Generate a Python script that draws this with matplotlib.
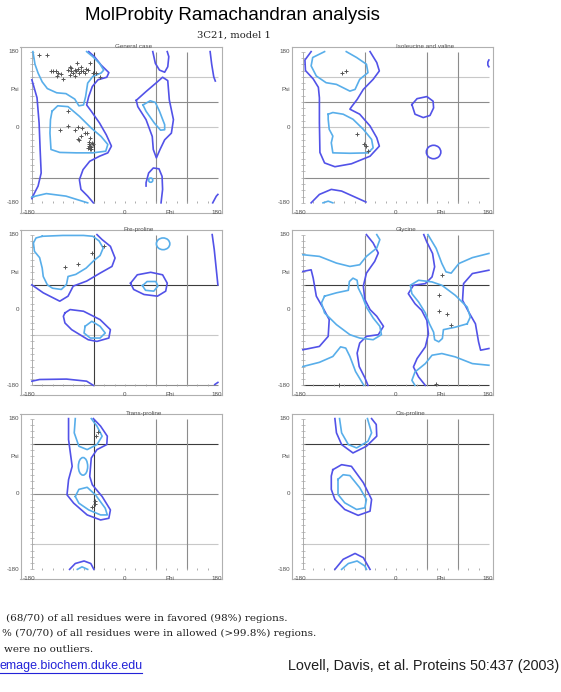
import matplotlib.pyplot as plt
from matplotlib.patches import Ellipse
from matplotlib.lines import Line2D

W, H = 561, 692
DARK_C = '#5252e8'
LIGHT_C = '#58aeea'
G_DARK = '#3c3c3c'
G_MID = '#8c8c8c'
G_LIGHT = '#c8c8c8'

# ---- General case ----
gen_dark = [
    [(-180, 113), (-170, 70), (-166, 10), (-164, -53), (-162, -109), (-168, -140), (-178, -164), (-180, -170)],
    [(-70, 180), (-59, 168), (-46, 148), (-31, 130), (-35, 119), (-52, 113), (-63, 97), (-70, 73), (-74, 53),
     (-65, 38), (-49, 10), (-36, -18), (-26, -45), (-33, -61), (-49, -69), (-68, -81), (-81, -101),
     (-88, -125), (-85, -148), (-72, -164), (-61, -180)],
    [(54, 180), (59, 152), (67, 136), (77, 131), (83, 144), (85, 168), (82, 180)],
    [(41, -140), (41, -132), (46, -109), (55, -97), (66, -99), (72, -117), (73, -148), (70, -180)],
    [(22, 64), (41, 85), (61, 106), (73, 119), (83, 111), (86, 65), (94, 18), (90, -14), (77, -30),
     (68, -53), (61, -73), (55, -53), (53, -22), (41, 18), (25, 49), (22, 64)],
    [(165, 180), (168, 150), (172, 120), (175, 110)],
    [(170, -180), (177, -164), (180, -160)],
]
gen_light = [
    [(-178, 180), (-174, 150), (-168, 129), (-160, 108), (-150, 92), (-132, 82), (-114, 80), (-97, 67),
     (-89, 51), (-80, 53), (-76, 73), (-72, 105), (-62, 121), (-46, 129), (-41, 136), (-49, 152),
     (-62, 168), (-74, 180)],
    [(-141, 38), (-130, 51), (-110, 49), (-88, 26), (-65, -2), (-46, -22), (-33, -41), (-37, -57),
     (-62, -61), (-94, -61), (-126, -60), (-143, -53), (-145, -14), (-144, 18), (-141, 38)],
    [(35, 53), (49, 63), (59, 59), (67, 38), (77, 6), (77, -6), (69, -7), (57, 10), (41, 38), (35, 53)],
    [(-180, -166), (-152, -158), (-114, -164), (-72, -180)],
]
gen_light_ell = [((50, -126), 8, 10)]
gen_phi = [-166, -150, -143, -139, -133, -130, -132, -120, -123, -110, -107, -104, -104, -101, -97, -94,
           -91, -93, -88, -85, -81, -78, -75, -68, -62, -55, -49, -107, -97, -85, -72,
           -110, -126, -110, -97, -91, -83, -78, -85, -91, -88, -74, -68, -69, -67, -65, -63, -69,
           -72, -67, -65, -69, -61]
gen_psi = [172, 172, 135, 133, 133, 129, 121, 114, 127, 136, 144, 140, 133, 129, 136, 133,
           138, 152, 129, 133, 135, 129, 138, 152, 130, 129, 119, 125, 122, 144, 136,
           38, -7, 4, -6, 0, -2, -14, -22, -28, -30, -14, -26, -39, -44, -47, -38, -34,
           -49, -52, -53, -45, -41]

# ---- Isoleucine and valine ----
iv_dark = [
    [(-164, 180), (-176, 160), (-175, 135), (-160, 115), (-150, 95), (-148, 70), (-148, 11), (-147, -60),
     (-138, -85), (-118, -94), (-86, -87), (-50, -69), (-32, -45), (-37, -25), (-50, 3), (-70, 31),
     (-89, 43), (-85, 50), (-75, 66), (-63, 90), (-44, 114), (-32, 134), (-37, 154), (-50, 180)],
    [(-164, -180), (-148, -160), (-125, -148), (-105, -152), (-76, -168), (-58, -178)],
    [(31, 54), (41, 68), (60, 73), (72, 62), (73, 46), (66, 28), (53, 23), (37, 31), (31, 54)],
    [(180, 160), (178, 155), (178, 148), (180, 144)],
]
iv_dark_ell = [((73, -59), 28, 32)]
iv_light = [
    [(-138, 180), (-161, 166), (-164, 146), (-154, 122), (-135, 106), (-115, 102), (-89, 86), (-79, 90),
     (-70, 114), (-54, 130), (-57, 150), (-76, 166), (-96, 180)],
    [(-131, 31), (-122, 35), (-102, 31), (-83, 19), (-63, -5), (-47, -29), (-44, -49), (-54, -61),
     (-89, -62), (-122, -61), (-125, -37), (-122, -21), (-129, -5), (-131, 19), (-131, 31)],
    [(-141, -180), (-131, -176), (-122, -180)],
]
iv_phi = [-105, -96, -76, -61, -58, -54]
iv_psi = [128, 133, -15, -39, -45, -57]

# ---- Pre-proline ----
pp_dark = [
    [(-180, 60), (-158, 41), (-126, 21), (-110, 33), (-100, 57), (-74, 69), (-48, 88), (-25, 104),
     (-19, 124), (-28, 152), (-44, 168), (-54, 180)],
    [(169, 180), (173, 144), (177, 96), (180, 60)],
    [(11, 64), (24, 84), (50, 90), (73, 84), (82, 64), (79, 45), (63, 33), (37, 37), (17, 49), (11, 64)],
    [(-116, -7), (-106, 1), (-80, -3), (-48, -23), (-28, -47), (-31, -67), (-54, -75), (-71, -71),
     (-103, -47), (-116, -31), (-119, -15), (-116, -7)],
    [(-180, -170), (-165, -166), (-113, -165), (-74, -170), (-61, -180)],
    [(174, -178), (180, -173)],
]
pp_light = [
    [(-160, 176), (-172, 172), (-177, 160), (-175, 140), (-165, 125), (-160, 100), (-158, 80),
     (-150, 60), (-140, 52), (-123, 49), (-113, 61), (-110, 80), (-95, 85), (-75, 100), (-60, 118),
     (-48, 130), (-42, 148), (-50, 165), (-62, 176), (-80, 178), (-120, 178), (-160, 176)],
    [(34, 58), (43, 68), (60, 68), (64, 57), (56, 45), (40, 47), (34, 58)],
    [(-77, -39), (-64, -27), (-48, -39), (-38, -55), (-48, -67), (-67, -67), (-79, -55), (-77, -39)],
]
pp_light_ell = [((74, 158), 26, 28)]
pp_phi = [-115, -90, -64, -40]
pp_psi = [103, 111, 136, 152]

# ---- Glycine ----
gly_dark = [
    [(-180, 92), (-164, 96), (-160, 76), (-154, 33), (-141, 5), (-129, -23), (-131, -63), (-148, -87), (-180, -95)],
    [(-57, 180), (-44, 160), (-34, 136), (-41, 116), (-57, 88), (-63, 57), (-60, 25), (-50, 1), (-37, -15),
     (-24, -39), (-34, -59), (-57, -63), (-70, -79), (-75, -103), (-71, -135), (-60, -162), (-54, -180)],
    [(180, -92), (164, -96), (160, -76), (154, -33), (141, -5), (129, 23), (131, 63), (148, 87), (180, 95)],
    [(57, -180), (44, -160), (34, -136), (41, -116), (57, -88), (63, -57), (60, -25), (50, -1), (37, 15),
     (24, 39), (34, 59), (57, 63), (70, 79), (75, 103), (71, 135), (60, 162), (54, 180)],
]
gly_light = [
    [(-180, 132), (-148, 128), (-115, 112), (-89, 104), (-70, 108), (-57, 128), (-37, 148), (-31, 168), (-37, 180)],
    [(-138, 33), (-115, 41), (-92, 47), (-90, 68), (-83, 76), (-75, 71), (-73, 53), (-65, 33), (-57, 7),
     (-44, -19), (-31, -39), (-28, -59), (-44, -71), (-70, -67), (-89, -59), (-115, -35), (-138, -7),
     (-144, 17), (-138, 33)],
    [(-180, -135), (-148, -125), (-122, -111), (-107, -88), (-97, -91), (-89, -111), (-78, -147), (-62, -180)],
    [(180, -132), (148, -128), (115, -112), (89, -104), (70, -108), (57, -128), (37, -148), (31, -168), (37, -180)],
    [(138, -33), (115, -41), (92, -47), (90, -68), (83, -76), (75, -71), (73, -53), (65, -33), (57, -7),
     (44, 19), (31, 39), (28, 59), (44, 71), (70, 67), (89, 59), (115, 35), (138, 7), (144, -17), (138, -33)],
    [(180, 135), (148, 125), (122, 111), (107, 88), (97, 91), (89, 111), (78, 147), (62, 180)],
]
gly_phi = [89, 84, 84, 99, 107, -110, 78]
gly_psi = [84, 36, -3, -9, -37, -178, -177]

# ---- Trans-proline ----
tp_dark = [
    [(-61, 180), (-47, 162), (-34, 138), (-35, 118), (-54, 106), (-65, 86), (-68, 42), (-63, 22),
     (-44, -6), (-28, -38), (-31, -58), (-47, -62), (-73, -50), (-99, -22), (-112, -2), (-109, 34),
     (-102, 66), (-109, 130), (-109, 180)],
    [(-107, -180), (-96, -166), (-79, -160), (-66, -166), (-60, -180)],
]
tp_light = [
    [(-96, 180), (-98, 146), (-89, 114), (-73, 106), (-54, 118), (-44, 138), (-54, 162), (-65, 180)],
    [(-96, -6), (-89, 11), (-73, 16), (-57, -2), (-38, -34), (-34, -50), (-47, -50), (-70, -38),
     (-89, -22), (-96, -6)],
    [(-92, -180), (-83, -174), (-72, -180)],
]
tp_light_ell = [((-81, 66), 18, 42)]
tp_phi = [-52, -55, -58, -57, -63]
tp_psi = [147, 138, -16, -24, -32]

# ---- Cis-proline ----
cp_dark = [
    [(-118, 180), (-115, 146), (-105, 118), (-83, 98), (-57, 114), (-37, 138), (-38, 166), (-47, 180)],
    [(-122, 58), (-105, 70), (-86, 66), (-63, 27), (-47, -13), (-50, -41), (-73, -51), (-99, -37),
     (-118, -13), (-125, 11), (-125, 43), (-122, 58)],
    [(-118, -180), (-102, -156), (-79, -142), (-63, -152), (-50, -180)],
]
cp_light = [
    [(-109, 180), (-105, 146), (-92, 118), (-76, 110), (-54, 126), (-47, 146), (-55, 180)],
    [(-112, 35), (-102, 46), (-89, 44), (-70, 15), (-57, -13), (-60, -33), (-76, -37), (-99, -21),
     (-112, -1), (-112, 35)],
    [(-105, -180), (-92, -166), (-75, -160), (-60, -172), (-57, -180)],
]
cp_phi = []
cp_psi = []


def frame(x0, y0, x1, y1):
    return [x0 / W, 1 - y1 / H, (x1 - x0) / W, (y1 - y0) / H]


fig = plt.figure(figsize=(W / 100, H / 100), dpi=100)


def panel(rect, title, tx, dark, light, phi, psi, hl, vl, bottom=None,
          dark_ell=(), light_ell=()):
    ax = fig.add_axes(rect)
    ax.set_xlim(-202, 187)
    ax.set_ylim(-203, 191)
    ax.set_xticks([])
    ax.set_yticks([])
    for s in ax.spines.values():
        s.set_color('#b0b0b0')
        s.set_linewidth(0.8)
    for y, c in hl:
        ax.hlines(y, -180, 180, color=c, lw=0.8, zorder=1)
    for x, c in vl:
        ax.vlines(x, -180, 180, color=c, lw=0.8, zorder=1)
    if bottom:
        ax.hlines(-180, -180, 180, color=bottom, lw=0.8, zorder=1)
    ax.vlines(-180, -180, 180, color='#a0a0a0', lw=0.6, zorder=1)
    ax.plot([-180] * 25, range(-180, 181, 15), ls='none', marker='_', ms=2.2,
            mew=0.5, color='#a8a8a8')
    ax.plot(range(-160, 180, 20), [-179] * 17, ls='none', marker='|', ms=1.6,
            mew=0.6, color='#a0a0a0')
    for c in dark:
        xs, ys = zip(*c)
        ax.plot(xs, ys, color=DARK_C, lw=1.2, solid_joinstyle='round', zorder=2)
    for c in light:
        xs, ys = zip(*c)
        ax.plot(xs, ys, color=LIGHT_C, lw=1.2, solid_joinstyle='round', zorder=2)
    for (cx, cy), w, h in dark_ell:
        ax.add_patch(Ellipse((cx, cy), w, h, fill=False, ec=DARK_C, lw=1.2))
    for (cx, cy), w, h in light_ell:
        ax.add_patch(Ellipse((cx, cy), w, h, fill=False, ec=LIGHT_C, lw=1.2))
    ax.plot(phi, psi, ls='none', marker='+', ms=2.2, mew=0.7, color='#555555', zorder=3)
    ax.text(tx, 193, title, fontsize=4.5, color='#505050', ha='left', va='center',
            family='Liberation Sans')
    for y, s in [(180, '180'), (90, 'Psi'), (0, '0'), (-180, '-180')]:
        ax.text(-205, y, s, fontsize=4.5, color='#505050', ha='right', va='center',
                family='Liberation Sans', clip_on=False)
    for x, s in [(-186, '-180'), (0, '0'), (88, 'Phi'), (178, '180')]:
        ax.text(x, -203, s, fontsize=4.5, color='#505050', ha='center', va='center',
                family='Liberation Sans', clip_on=False)
    return ax


grid1 = [(120, G_LIGHT), (60, G_MID), (0, G_LIGHT), (-120, G_MID)]
panel(frame(20.5, 47, 221.5, 212.5), 'General case', -19, gen_dark, gen_light,
      gen_phi, gen_psi, grid1, [(-60, G_DARK), (60, G_MID), (120, G_MID)],
      light_ell=gen_light_ell)
panel(frame(291.5, 47, 492.5, 212.5), 'Isoleucine and valine', 0, iv_dark, iv_light,
      iv_phi, iv_psi, grid1, [(-60, G_MID), (60, G_MID), (120, G_MID)],
      dark_ell=iv_dark_ell)
panel(frame(20.5, 230, 221.5, 395), 'Pre-proline', -3, pp_dark, pp_light,
      pp_phi, pp_psi, [(60, G_DARK), (-60, G_LIGHT)],
      [(-60, G_DARK), (60, G_MID), (120, G_MID)], bottom=G_MID, light_ell=pp_light_ell)
panel(frame(291.5, 230, 492.5, 395), 'Glycine', 0, gly_dark, gly_light,
      gly_phi, gly_psi, [(60, G_DARK), (-60, G_LIGHT)],
      [(-60, G_MID), (60, G_MID), (120, G_MID)], bottom=G_DARK)
panel(frame(20.5, 414, 221.5, 579), 'Trans-proline', 1, tp_dark, tp_light,
      tp_phi, tp_psi, [(120, G_DARK), (0, G_MID), (-120, G_LIGHT)],
      [(-60, G_DARK), (60, G_MID), (120, G_MID)], light_ell=tp_light_ell)
panel(frame(291.5, 414, 492.5, 579), 'Cis-proline', 0, cp_dark, cp_light,
      cp_phi, cp_psi, [(120, G_DARK), (0, G_MID), (-120, G_LIGHT)],
      [(-60, G_MID), (60, G_MID), (120, G_MID)])

fig.text(232 / W, 1 - 16 / H, 'MolProbity Ramachandran analysis', fontsize=13.5,
         family='Liberation Sans', ha='center', va='center')
fig.text(234 / W, 1 - 35 / H, '3C21, model 1', fontsize=7.2, family='DejaVu Serif',
         ha='center', va='center', color='#202020')

serif = dict(fontsize=7.5, family='DejaVu Serif', va='center', color='#202020', ha='left')
fig.text(6 / W, 1 - 618 / H, '(68/70) of all residues were in favored (98%) regions.', **serif)
fig.text(2 / W, 1 - 633 / H, '% (70/70) of all residues were in allowed (>99.8%) regions.', **serif)
fig.text(4 / W, 1 - 650 / H, 'were no outliers.', **serif)

sans = dict(fontsize=9, family='Liberation Sans', va='center', ha='left')
fig.text(0, 1 - 666 / H, 'emage.biochem.duke.edu', color='#2323d8', **sans)
fig.add_artist(Line2D([0, 142 / W], [1 - 672.5 / H] * 2, color='#2323d8', lw=0.8))
sans['fontsize'] = 10.4
fig.text(288 / W, 1 - 666 / H, 'Lovell, Davis, et al. Proteins 50:437 (2003)',
         color='#202020', **sans)

fig.savefig('out.png', dpi=100)
